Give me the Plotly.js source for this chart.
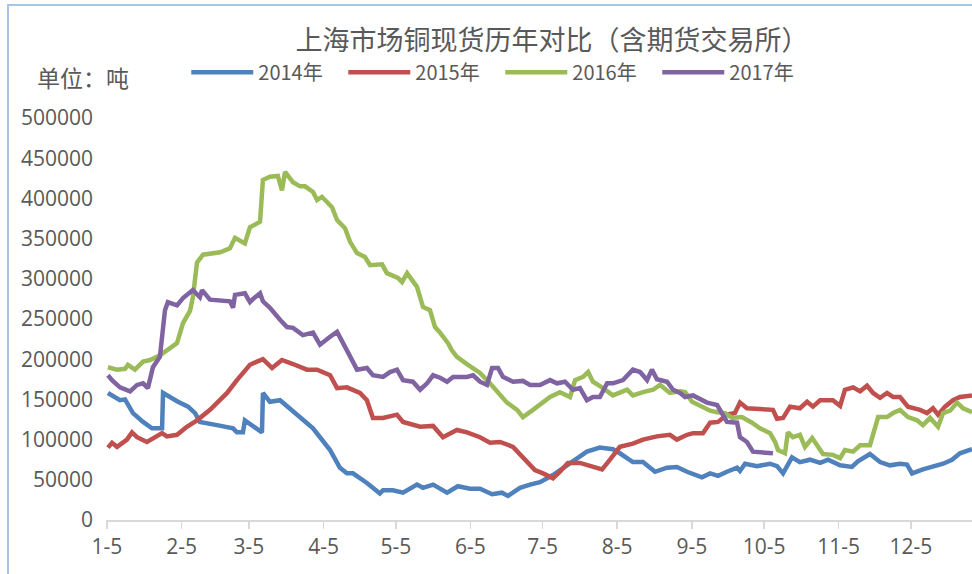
<!DOCTYPE html>
<html>
<head>
<meta charset="utf-8">
<script src="https://cdn.plot.ly/plotly-3.0.1.min.js"></script>
<style>
  html, body { margin: 0; padding: 0; background: #ffffff; overflow: hidden; }
  #wrap { position: relative; width: 972px; height: 574px; overflow: hidden; }
  #frame { position: absolute; left: 7px; top: 4px; width: 1100px; height: 700px;
           border-top: 2px solid #a8c5e6; border-left: 2px solid #a8c5e6; pointer-events: none; z-index: 5; }
  #chart { position: absolute; left: 0; top: 0; width: 972px; height: 574px; }
</style>
</head>
<body>
<div id="wrap">
  <div id="chart"></div>
  <div id="frame"></div>
</div>
<script>
// Day-of-year (x) and stock in tonnes (y)
const x2014 = [5.4,10.4,12.5,15.8,20.0,23.7,27.9,28.3,34.5,38.7,41.6,43.6,50.7,57.4,59.0,61.5,62.3,65.7,69.4,69.8,72.7,76.9,81.0,85.2,90.6,97.7,101.8,104.7,107.2,113.0,118.4,119.7,123.8,128.0,132.1,133.8,136.3,140.5,146.3,150.8,155.8,160.0,165.0,169.1,171.6,176.6,180.8,184.9,190.3,196.1,200.3,204.4,209.8,215.2,218.1,223.5,227.7,232.7,237.7,241.8,246.0,252.2,255.6,258.9,262.6,266.8,268.0,270.1,275.1,280.5,283.4,285.9,289.6,292.9,297.1,301.3,304.6,309.6,314.5,317.0,322.0,326.2,330.3,334.5,337.4,339.5,344.0,348.2,352.4,356.1,359.4,364.4];
const y2014 = [158000,149000,150000,133000,122000,114000,114000,158000,147000,141000,133000,122000,118000,114000,109000,109000,124000,116000,109000,158000,147000,149000,139000,127000,114000,87000,65000,58000,58000,46000,33000,37000,37000,34000,40000,44000,40000,44000,34000,42000,39000,39000,32000,34000,30000,40000,44000,47000,56000,68000,77000,85000,90000,88000,83000,72000,72000,60000,65000,66000,60000,53000,58000,55000,60000,65000,61000,70000,67000,70000,67000,58000,78000,72000,75000,71000,75000,68000,66000,73000,82000,72000,68000,70000,69000,58000,63000,66000,70000,75000,83000,88000];

const x2015 = [5.4,7.1,9.2,13.3,15.4,17.5,21.6,27.9,29.9,34.1,38.2,42.4,47.8,54.9,59.0,64.4,67.3,69.8,73.6,77.7,82.3,88.1,92.3,97.7,100.6,104.7,110.1,113.0,115.5,119.7,125.5,128.0,135.1,140.5,144.6,150.4,154.6,160.0,164.1,168.3,173.7,177.8,182.8,186.2,190.3,193.2,196.5,201.5,205.7,210.7,214.0,218.1,223.5,227.7,233.5,238.9,241.8,246.0,248.5,252.6,255.6,258.9,262.6,265.9,268.0,270.9,281.7,283.4,285.9,288.8,292.9,295.9,298.3,301.3,306.6,309.6,311.6,315.0,317.9,320.8,323.3,326.2,329.1,331.6,334.5,337.8,342.8,345.7,348.2,350.3,353.2,356.5,359.4,364.4];
const y2015 = [90000,96000,91000,100000,109000,103000,97000,108000,104000,106000,116000,124000,137000,158000,174000,193000,197000,200000,189000,199000,194000,187000,187000,180000,164000,165000,158000,149000,127000,127000,131000,122000,116000,117000,103000,112000,109000,103000,96000,97000,91000,78000,62000,58000,52000,60000,71000,71000,68000,63000,75000,91000,95000,100000,104000,106000,100000,106000,108000,108000,121000,122000,131000,133000,146000,139000,137000,126000,127000,141000,139000,147000,141000,149000,149000,142000,162000,165000,160000,167000,158000,152000,158000,153000,153000,141000,137000,133000,139000,131000,141000,149000,153000,155000];

const x2016 = [5.4,9.2,12.5,13.7,16.6,20.0,22.9,27.0,29.9,34.1,36.6,39.5,40.7,42.4,44.9,52.0,56.1,58.2,62.3,64.4,68.6,69.8,72.7,76.0,77.7,79.0,82.3,85.2,87.3,90.6,92.3,94.3,98.5,100.6,103.9,106.0,108.9,112.2,114.3,119.3,121.3,125.9,127.6,129.7,133.8,136.3,139.2,141.3,143.4,146.7,148.3,150.4,155.0,160.0,164.1,168.3,171.2,175.4,177.8,182.0,184.9,189.1,193.2,197.4,199.5,202.8,204.9,206.9,211.1,215.2,221.1,223.5,227.7,231.9,234.8,238.9,243.1,245.2,248.1,252.2,255.6,258.5,261.8,264.7,268.8,273.0,276.3,280.5,282.6,283.8,286.7,287.9,290.0,292.9,295.0,298.0,300.4,302.5,306.6,309.6,311.6,315.0,317.9,322.0,325.4,329.1,331.6,334.5,337.8,341.6,344.0,347.0,350.3,352.4,355.3,358.2,360.7,364.4];
const y2016 = [190000,187000,188000,193000,187000,197000,199000,205000,211000,220000,245000,260000,277000,320000,330000,333000,338000,351000,344000,364000,371000,423000,427000,428000,410000,433000,420000,415000,415000,408000,398000,402000,389000,373000,363000,346000,332000,327000,317000,318000,307000,301000,296000,307000,290000,265000,261000,240000,233000,220000,211000,203000,193000,183000,170000,155000,146000,137000,128000,137000,143000,153000,159000,153000,174000,178000,184000,172000,164000,155000,162000,155000,159000,162000,168000,158000,160000,159000,147000,141000,136000,134000,133000,127000,128000,121000,114000,108000,97000,87000,83000,109000,103000,106000,91000,102000,91000,82000,81000,77000,87000,85000,93000,93000,128000,128000,133000,137000,128000,124000,118000,127000,116000,133000,136000,146000,139000,134000];

const x2017 = [5.4,7.1,10.4,14.6,17.5,20.0,22.0,24.1,27.0,29.1,30.3,34.1,36.6,40.7,43.6,44.5,47.8,56.1,57.4,58.2,62.3,64.4,65.7,68.6,69.8,72.7,76.9,79.8,82.3,86.4,90.6,93.5,97.7,100.6,104.7,107.2,108.9,113.0,115.5,119.7,122.6,125.5,128.0,132.1,135.1,138.0,140.5,143.4,146.3,148.8,154.6,157.1,160.0,162.9,165.0,167.5,169.5,173.7,177.8,180.8,184.9,189.1,192.0,195.3,198.6,201.5,204.4,206.9,209.8,212.8,215.2,219.4,223.5,226.5,229.4,231.4,233.5,237.7,240.2,243.1,245.2,248.5,252.2,254.3,258.5,261.0,262.6,266.8,268.0,270.9,273.4,281.7];
const y2017 = [180000,174000,165000,160000,168000,170000,164000,190000,203000,261000,271000,267000,276000,286000,277000,286000,274000,272000,264000,280000,282000,271000,275000,282000,272000,264000,249000,240000,239000,230000,233000,218000,228000,234000,211000,195000,187000,189000,180000,178000,184000,187000,174000,172000,162000,170000,180000,177000,172000,178000,178000,180000,172000,168000,189000,189000,178000,172000,173000,168000,168000,174000,170000,172000,162000,164000,149000,153000,153000,170000,170000,174000,187000,184000,174000,187000,175000,172000,162000,158000,153000,155000,149000,146000,143000,131000,122000,121000,103000,97000,85000,83000];

const seriesNames = ['2014年', '2015年', '2016年', '2017年'];
const seriesColors = ['#4f81bd', '#c0504d', '#9bbb59', '#8064a2'];
const tickDays = [5, 36, 64, 95, 125, 156, 186, 217, 248, 278, 309, 339];
const tickLabels = ['1-5', '2-5', '3-5', '4-5', '5-5', '6-5', '7-5', '8-5', '9-5', '10-5', '11-5', '12-5'];

const chartTitle = '上海市场铜现货历年对比（含期货交易所）';
const unitLabel = '单位：吨';

const xs = [x2014, x2015, x2016, x2017];
const ys = [y2014, y2015, y2016, y2017];

const textColor = '#595959';
const fontFamily = '"Open Sans", "Noto Sans CJK SC", sans-serif';
const cjkFamily = '"Noto Sans CJK SC", "Open Sans", sans-serif';

const traces = xs.map((x, i) => ({
  type: 'scatter',
  mode: 'lines',
  name: seriesNames[i],
  x: x,
  y: ys[i],
  line: { color: seriesColors[i], width: 4.5, shape: 'linear' },
  hoverinfo: 'skip'
}));

const layout = {
  width: 972,
  height: 574,
  margin: { l: 106, r: 0, t: 118, b: 54, pad: 0 },
  paper_bgcolor: 'rgba(0,0,0,0)',
  plot_bgcolor: 'rgba(0,0,0,0)',
  font: { family: fontFamily, color: textColor, size: 20 },
  title: {
    text: chartTitle,
    font: { family: cjkFamily, size: 27, color: textColor },
    x: 0.568, xref: 'container', xanchor: 'center',
    y: 0.930, yref: 'container', yanchor: 'middle'
  },
  showlegend: true,
  legend: {
    orientation: 'h',
    x: 0.0927, xanchor: 'left',
    y: 1.114, yanchor: 'middle',
    font: { family: cjkFamily, size: 20, color: textColor },
    itemwidth: 62,
    entrywidth: 80, entrywidthmode: 'pixels',
    bgcolor: 'rgba(0,0,0,0)',
    traceorder: 'normal'
  },
  xaxis: {
    type: 'linear',
    range: [4.6, 364.4],
    tickmode: 'array',
    tickvals: tickDays,
    ticktext: tickLabels,
    showgrid: false,
    zeroline: false,
    showline: true,
    linecolor: '#d9d9d9',
    linewidth: 1.5,
    ticks: 'outside',
    ticklen: 7,
    tickwidth: 1.5,
    tickcolor: '#d9d9d9',
    tickfont: { family: fontFamily, size: 21, color: textColor },
    fixedrange: true
  },
  yaxis: {
    range: [0, 500000],
    tickmode: 'linear',
    tick0: 0,
    dtick: 50000,
    tickformat: 'd',
    showgrid: false,
    zeroline: false,
    showline: false,
    ticks: '',
    ticklabelstandoff: 12,
    tickfont: { family: fontFamily, size: 21, color: textColor },
    fixedrange: true
  },
  annotations: [{
    text: unitLabel,
    xref: 'paper', yref: 'paper',
    x: -0.082, xanchor: 'left',
    y: 1.102, yanchor: 'middle',
    showarrow: false,
    font: { family: cjkFamily, size: 23, color: textColor }
  }]
};

Plotly.newPlot('chart', traces, layout, { displayModeBar: false, staticPlot: true });
</script>
</body>
</html>
